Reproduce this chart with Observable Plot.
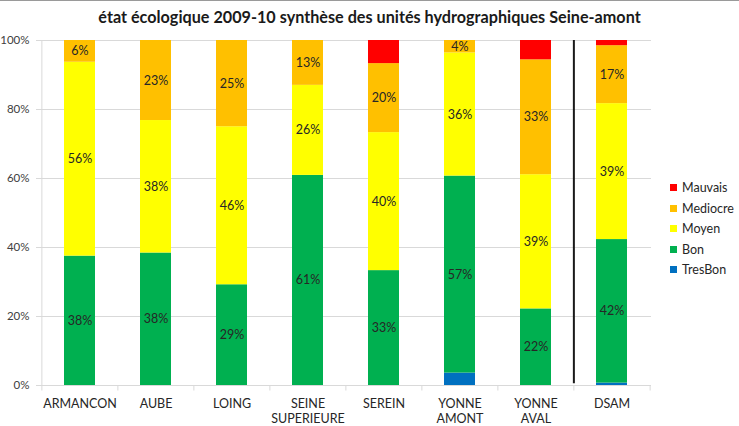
<!DOCTYPE html>
<html>
<head>
<meta charset="utf-8">
<script src="https://cdn.jsdelivr.net/npm/d3@7"></script>
<script src="https://cdn.jsdelivr.net/npm/@observablehq/plot@0.6"></script>
<style>
  html, body { margin: 0; padding: 0; background: #fff; }
  #wrap { position: relative; width: 739px; height: 426px; overflow: hidden; font-family: Lato, sans-serif; }
  #topline { position: absolute; left: 0; top: 0; width: 739px; height: 0; border-top: 1.5px solid #9a9a9a; }
  #title { position: absolute; left: 0; top: 7px; width: 739px; text-align: center; font-weight: bold; font-size: 16.2px; color: #1a1a1a; }
  #chart { position: absolute; left: 0; top: 0; }
  #legend { position: absolute; left: 670px; top: 177.5px; font-size: 12.5px; color: #262626; }
  .item { display: flex; align-items: center; height: 20.5px; }
  .sw { width: 7px; height: 7px; margin-right: 5px; }
</style>
</head>
<body>
<div id="wrap">
  <div id="topline"></div>
  <div id="chart"></div>
  <div id="title">état écologique 2009-10 synthèse des unités hydrographiques Seine-amont</div>
  <div id="legend"></div>
</div>
<script>
const categories = ["ARMANCON", "AUBE", "LOING", "SEINE SUPERIEURE", "SEREIN", "YONNE AMONT", "YONNE AVAL", "DSAM"];
const series = ["TresBon", "Bon", "Moyen", "Mediocre", "Mauvais"];
const colors = ["#0070C0", "#00B050", "#FFFF00", "#FFC000", "#FF0000"];
const labeledSeries = ["Bon", "Moyen", "Mediocre"];
const tresBon  = [0,    0,    0,    0,    0,    3.6,  0,    0.7];
const bon      = [37.5, 38.4, 29.2, 60.9, 33.3, 57.1, 22.2, 41.6];
const moyen    = [56.2, 38.4, 45.8, 26.1, 40.0, 35.7, 38.9, 39.4];
const mediocre = [6.3,  23.2, 25.0, 13.0, 20.0, 3.6,  33.3, 16.8];
const mauvais  = [0,    0,    0,    0,    6.7,  0,    5.6,  1.5];
const yTicks = [0, 20, 40, 60, 80, 100];
const separatorBefore = ["DSAM"];

const valuesBySeries = {TresBon: tresBon, Bon: bon, Moyen: moyen, Mediocre: mediocre, Mauvais: mauvais};
const data = [];
categories.forEach((c, i) => series.forEach(s => data.push({cat: c, series: s, value: valuesBySeries[s][i]})));

const W = 739, H = 426, mL = 41, mR = 88, mT = 40, mB = 41;
const step = (W - mL - mR) / categories.length;
const grid = "#d9d9d9";

const chart = Plot.plot({
  width: W, height: H,
  marginLeft: mL, marginRight: mR, marginTop: mT, marginBottom: mB,
  style: {fontFamily: "Lato, sans-serif", background: "transparent"},
  x: {domain: categories, paddingInner: 0.59, paddingOuter: 0.295, label: null},
  y: {domain: [0, 100], label: null},
  color: {domain: series, range: colors},
  marks: [
    Plot.ruleY(yTicks, {y: d => d, stroke: grid, insetLeft: -5}),
    Plot.ruleX([0], {x: () => categories[0], dx: -step / 2, y1: 0, y2: 100, stroke: grid}),
    Plot.ruleX(categories, {x: d => d, dx: -step / 2, y1: 0, y2: -1.6, stroke: grid}),
    Plot.ruleX([categories[categories.length - 1]], {x: d => d, dx: step / 2, y1: 0, y2: -1.6, stroke: grid}),
    Plot.barY(data, Plot.stackY({x: "cat", y: "value", z: "series", order: series, fill: "series"})),
    Plot.text(data, Plot.stackY({
      x: "cat", y: "value", z: "series", order: series,
      text: d => (labeledSeries.includes(d.series) && d.value > 0) ? Math.round(d.value) + "%" : "",
      fill: "#262626", fontSize: 12.5
    })),
    Plot.ruleX(separatorBefore, {x: d => d, dx: -step / 2, y1: 0.5, y2: 100, stroke: "#1a1a1a", strokeWidth: 2}),
    Plot.axisY({ticks: yTicks, tickFormat: d => d + "%", tickSize: 0, tickPadding: 12, fontSize: 11.5, fill: "#404040"}),
    Plot.axisX({tickSize: 0, tickPadding: 11, fontSize: 12.5, fill: "#262626", lineHeight: 1.25, tickFormat: d => d.replace(" ", "\n")})
  ]
});
document.getElementById("chart").appendChild(chart);

const legend = document.getElementById("legend");
series.slice().reverse().forEach(s => {
  const row = document.createElement("div");
  row.className = "item";
  const sw = document.createElement("div");
  sw.className = "sw";
  sw.style.background = colors[series.indexOf(s)];
  const t = document.createElement("span");
  t.textContent = s;
  row.appendChild(sw); row.appendChild(t);
  legend.appendChild(row);
});
</script>
</body>
</html>
